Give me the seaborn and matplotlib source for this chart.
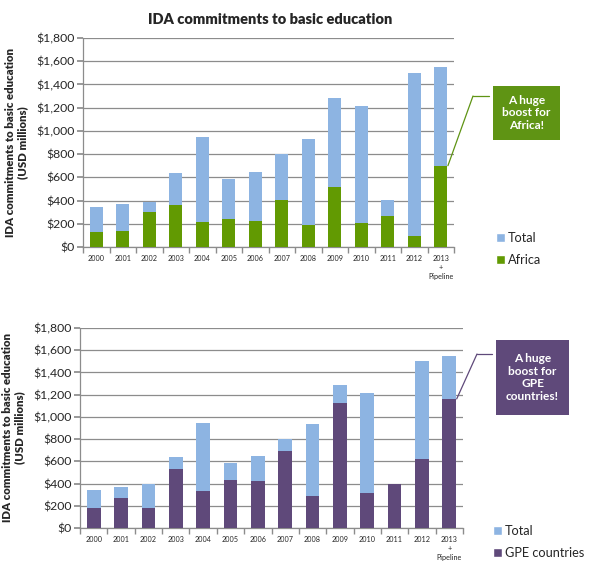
import matplotlib
matplotlib.use("Agg")
import matplotlib.pyplot as plt
import seaborn as sns
import pandas as pd
import numpy as np
from matplotlib.patches import Rectangle, Patch
from matplotlib.lines import Line2D
from matplotlib.ticker import FuncFormatter, FixedLocator

years = ["2000", "2001", "2002", "2003", "2004", "2005", "2006", "2007",
         "2008", "2009", "2010", "2011", "2012", "2013\n+\nPipeline"]
total_top = [344, 370, 388, 637, 950, 586, 646, 801, 930, 1283, 1214, 405, 1499, 1550]
africa = [132, 141, 301, 365, 215, 241, 224, 405, 190, 517, 207, 267, 95, 700]
total_bottom = [340, 367, 397, 638, 945, 584, 647, 798, 936, 1288, 1216, 400, 1505, 1550]
gpe = [178, 268, 178, 530, 331, 430, 421, 692, 286, 1126, 313, 400, 620, 1162]

title = "IDA commitments to basic education"
ylabel = "IDA commitments to basic education\n(USD millions)"

BLUE = "#8DB4E2"
GREEN = "#629A02"
BOX_GREEN = "#5F9414"
PURPLE = "#5F497A"
GRID = "#8C8C8C"

sns.set_theme(style="white")
plt.rcParams["font.family"] = ["Lato", "DejaVu Sans"]

W, H = 590, 575
fig = plt.figure(figsize=(W / 100, H / 100), dpi=100)


def fig_rect(x0, y0, x1, y1):
    return [x0 / W, 1 - y1 / H, (x1 - x0) / W, (y1 - y0) / H]


def draw(ax, total, sub, sub_color, sub_name):
    df = pd.DataFrame({"year": years, "Total": total, sub_name: sub})
    sns.barplot(data=df, x="year", y="Total", color=BLUE, width=0.5,
                saturation=1, ax=ax, zorder=2, linewidth=0, edgecolor="none")
    sns.barplot(data=df, x="year", y=sub_name, color=sub_color, width=0.5,
                saturation=1, ax=ax, zorder=3, linewidth=0, edgecolor="none")
    ax.set_ylim(0, 1800)
    ax.set_xlim(-0.5, len(years) - 0.5)
    ax.yaxis.set_major_locator(FixedLocator(np.arange(0, 1801, 200)))
    ax.yaxis.set_major_formatter(FuncFormatter(lambda v, p: f"${int(v):,}"))
    ax.grid(axis="y", color=GRID, lw=0.9, zorder=0)
    ax.set_axisbelow(True)
    for s in ["top", "right"]:
        ax.spines[s].set_visible(False)
    for s in ["left", "bottom"]:
        ax.spines[s].set_color(GRID)
        ax.spines[s].set_linewidth(0.9)
    ax.set_xlabel("")
    ax.set_ylabel(ylabel, fontsize=8.2, fontweight="heavy", labelpad=6,
                  linespacing=1.1)
    ax.tick_params(axis="y", labelsize=8.8, length=4, color=GRID, direction="out",
                   left=True, pad=2)
    ax.tick_params(axis="x", which="major", labelsize=5.2, length=0, pad=6)
    ax.set_xticks(np.arange(-0.5, len(years), 1), minor=True)
    ax.tick_params(axis="x", which="minor", length=4, color=GRID, direction="out",
                   bottom=True)
    for lab in ax.get_xticklabels():
        lab.set_linespacing(1.3)
        lab.set_verticalalignment("top")
    handles = [Patch(facecolor=BLUE, label="Total"),
               Patch(facecolor=sub_color, label=sub_name)]
    return handles


def legend(handles, x, y):
    fig.legend(handles=handles, loc="center left",
               bbox_to_anchor=(x / W, 1 - y / H), frameon=False,
               fontsize=9.2, handlelength=0.7, handleheight=0.7,
               handletextpad=0.25, labelspacing=0.85, borderpad=0,
               borderaxespad=0)


# Top chart
ax1 = fig.add_axes(fig_rect(83, 38, 454, 247))
h1 = draw(ax1, total_top, africa, GREEN, "Africa")
fig.text(270 / W, 1 - 19 / H, title, ha="center", va="center",
         fontsize=10.5, fontweight="heavy")
legend(h1, 496, 249)

# Bottom chart
ax2 = fig.add_axes(fig_rect(80, 328, 463, 528))
h2 = draw(ax2, total_bottom, gpe, PURPLE, "GPE countries")
legend(h2, 493, 542)


def callout(ax, x0, y0, x1, y1, text, color, elbow, bar_idx, bar_val):
    fig.add_artist(Rectangle((x0 / W, 1 - y1 / H), (x1 - x0) / W, (y1 - y0) / H,
                             transform=fig.transFigure, facecolor=color,
                             edgecolor="none"))
    fig.text((x0 + x1) / 2 / W, 1 - (y0 + y1) / 2 / H, text, ha="center",
             va="center", color="white", fontsize=8.6, fontweight="bold",
             linespacing=1.2)
    ex, ey = elbow
    fig.add_artist(Line2D([ex / W, (x0 - 4) / W], [1 - ey / H, 1 - ey / H],
                          transform=fig.transFigure, color=color, lw=0.9))
    ax.annotate("", xy=(bar_idx + 0.27, bar_val), xycoords="data",
                xytext=(ex / W, 1 - ey / H), textcoords="figure fraction",
                arrowprops=dict(arrowstyle="-", color=color, lw=0.9,
                                shrinkA=0, shrinkB=0),
                annotation_clip=False)


callout(ax1, 493, 86, 560, 140, "A huge\nboost for\nAfrica!", BOX_GREEN,
        (473, 96), len(years) - 1, africa[-1])
callout(ax2, 496, 340, 569, 415, "A huge\nboost for\nGPE\ncountries!", PURPLE,
        (477, 354), len(years) - 1, gpe[-1])

fig.savefig("out.png", dpi=100)
